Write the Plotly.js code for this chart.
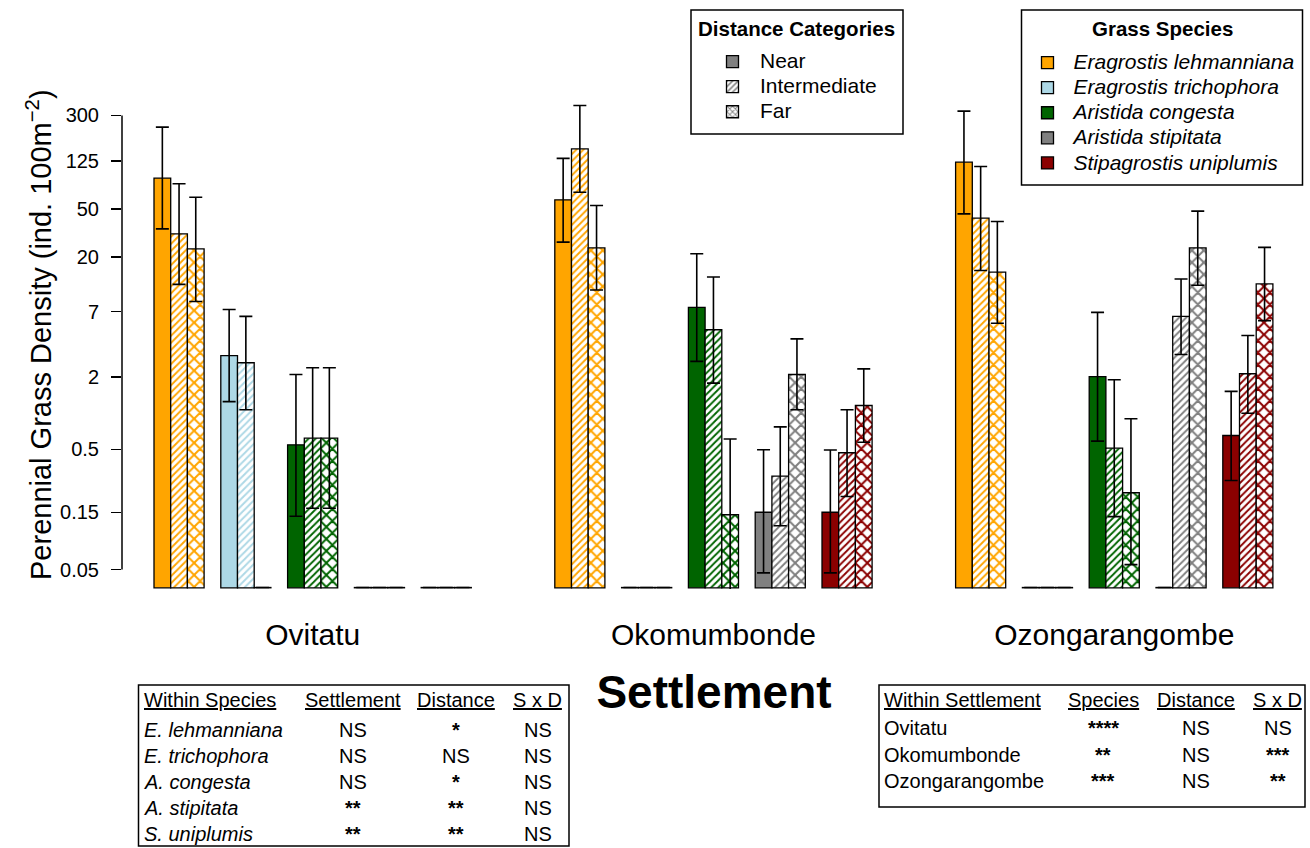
<!DOCTYPE html>
<html><head><meta charset="utf-8">
<script src="https://cdn.plot.ly/plotly-3.0.1.min.js"></script>
<style>html,body{margin:0;padding:0;background:#fff}#chart{width:1310px;height:848px}</style>
</head><body><div id="chart"></div>
<script>
// ---------- data ----------
const settlements = ['Ovitatu', 'Okomumbonde', 'Ozongarangombe'];
const species = ['Eragrostis lehmanniana', 'Eragrostis trichophora', 'Aristida congesta', 'Aristida stipitata', 'Stipagrostis uniplumis'];
const speciesColors = ['#FFA500', '#ADD8E6', '#006400', '#808080', '#8B0000'];
const distances = ['Near', 'Intermediate', 'Far'];

// rows: Near, Intermediate, Far ; columns: Ovitatu, Okomumbonde, Ozongarangombe
const lehmMean  = [[90.3, 59.6, 122.7], [31.1, 158, 42], [23.3, 23.8, 14.9]];
const lehmUpper = [[240, 132, 326], [81.1, 363, 113], [62.7, 53.5, 39.4]];
const lehmLower = [[34.2, 26.5, 45.6], [11.8, 69, 15.4], [8.5, 10.6, 5.6]];

const trichMean  = [[3.02, 0, 0], [2.63, 0, 0], [0, 0, 0]];
const trichUpper = [[7.3, 0, 0], [6.4, 0, 0], [0, 0, 0]];
const trichLower = [[1.25, 0, 0], [1.07, 0, 0], [0, 0, 0]];

const congMean  = [[0.546, 7.6, 2.02], [0.62, 4.95, 0.512], [0.62, 0.143, 0.218]];
const congUpper = [[2.1, 21.2, 6.9], [2.39, 13.6, 1.9], [2.39, 0.61, 0.90]];
const congLower = [[0.139, 2.7, 0.586], [0.162, 1.78, 0.138], [0.162, 0, 0.055]];

const stipMean  = [[0, 0.150, 0], [0, 0.30, 6.4], [0, 2.1, 23.8]];
const stipUpper = [[0, 0.497, 0], [0, 0.77, 13.1], [0, 4.16, 48]];
const stipLower = [[0, 0.047, 0], [0, 0.116, 3.08], [0, 1.07, 11.6]];

const uniMean  = [[0, 0.150, 0.653], [0, 0.469, 2.13], [0, 1.16, 11.9]];
const uniUpper = [[0, 0.494, 1.52], [0, 1.07, 4.44], [0, 2.34, 24]];
const uniLower = [[0, 0.047, 0.276], [0, 0.203, 1.0], [0, 0.574, 5.9]];

const yTickVals = [0.05, 0.15, 0.5, 2, 7, 20, 50, 125, 300];
const yTickText = ['0.05', '0.15', '0.5', '2', '7', '20', '50', '125', '300'];

// significance tables
const withinSpeciesRows = ['E. lehmanniana', 'E. trichophora', 'A. congesta', 'A. stipitata', 'S. uniplumis'];
const speciesSettlementSig = ['NS', 'NS', 'NS', '**', '**'];
const speciesDistanceSig = ['*', 'NS', '*', '**', '**'];
const speciesSxDSig = ['NS', 'NS', 'NS', 'NS', 'NS'];
const withinSettlementRows = ['Ovitatu', 'Okomumbonde', 'Ozongarangombe'];
const settlementSpeciesSig = ['****', '**', '***'];
const settlementDistanceSig = ['NS', 'NS', 'NS'];
const settlementSxDSig = ['NS', '***', '**'];

// ---------- layout geometry ----------
const FONT = 'Liberation Sans, Arial, Helvetica, sans-serif';
const W = 1310, H = 848;
const M = {l: 122, r: 4, t: 10, b: 259};
const PW = W - M.l - M.r, PH = H - M.t - M.b;
const BASE = 0.0353;               // bar baseline (plot floor)
const yMin = Math.log10(BASE) - 0.01;
const yMax = yMin + PH / 120.2;
const xMin = -1.916, xMax = xMin + PW / 16.7;
const px2x = px => (px - M.l) / PW;
const px2y = py => (M.t + PH - py) / PH;
const yPaper = v => (Math.log10(v) - yMin) / (yMax - yMin);

const means = [lehmMean, trichMean, congMean, stipMean, uniMean];
const uppers = [lehmUpper, trichUpper, congUpper, stipUpper, uniUpper];
const lowers = [lehmLower, trichLower, congLower, stipLower, uniLower];
const patterns = [
  {shape: ''},
  {shape: '/', size: 5, solidity: 0.38, bgcolor: 'white', fillmode: 'replace'},
  {shape: 'x', size: 8.5, solidity: 0.42, bgcolor: 'white', fillmode: 'replace'}
];

const traces = [];
species.forEach((sp, k) => {
  distances.forEach((dist, d) => {
    const m = means[k][d], up = uppers[k][d], lo = lowers[k][d];
    const pat = Object.assign({}, patterns[d]);
    if (d > 0) pat.fgcolor = speciesColors[k];
    traces.push({
      type: 'bar',
      name: sp + ' ' + dist,
      showlegend: false,
      x: settlements.map((s, i) => i * 24 + k * 4 + d + 0.5),
      base: settlements.map(() => BASE),
      y: m.map(v => v > 0 ? v - BASE : BASE * 0.006),
      width: 1,
      marker: {
        color: d === 0 ? speciesColors[k] : 'white',
        pattern: pat,
        line: {color: 'black', width: 1.3}
      },
      error_y: {
        type: 'data', symmetric: false,
        array: m.map((v, i) => v > 0 ? up[i] - v : null),
        arrayminus: m.map((v, i) => v > 0 ? v - lo[i] : null),
        color: 'black', thickness: 1.6, width: 6.5
      },
      hoverinfo: 'skip'
    });
  });
});

// legend entries
const big = t => '<span style="font-size:21px">' + t + '</span>';
distances.forEach((dist, d) => {
  const pat = Object.assign({}, patterns[d]);
  if (d > 0) { pat.fgcolor = '#808080'; pat.size = 5; }
  traces.push({
    type: 'bar', x: [null], y: [null], name: big(dist), legend: 'legend',
    marker: {color: d === 0 ? '#808080' : 'white', pattern: pat, line: {color: 'black', width: 1.3}}
  });
});
species.forEach((sp, k) => {
  traces.push({
    type: 'bar', x: [null], y: [null], name: big('<i>' + sp + '</i>'), legend: 'legend2',
    marker: {color: speciesColors[k], line: {color: 'black', width: 1.3}}
  });
});

// ---------- annotations (titles + tables) ----------
const ann = [];
ann.push({
  text: 'Perennial Grass Density (ind. 100m<sup>−2</sup>)', textangle: -90,
  xref: 'paper', yref: 'paper', x: px2x(39), y: px2y(335),
  xanchor: 'center', yanchor: 'middle', showarrow: false,
  font: {size: 29, family: FONT, color: 'black'}
});
// legend box titles
ann.push({text: '<b>Distance Categories</b>', xref: 'paper', yref: 'paper', x: px2x(796), y: px2y(29),
  xanchor: 'center', yanchor: 'middle', showarrow: false, font: {size: 20.5, family: FONT, color: 'black'}});
ann.push({text: '<b>Grass Species</b>', xref: 'paper', yref: 'paper', x: px2x(1162), y: px2y(29),
  xanchor: 'center', yanchor: 'middle', showarrow: false, font: {size: 20.5, family: FONT, color: 'black'}});

const U = t => '<span style="text-decoration:underline">' + t + '</span>';
const sig = t => t.indexOf('*') >= 0 ? '<b>' + t + '</b>' : t;
function cell(text, px, py, anchor) {
  ann.push({text: text, xref: 'paper', yref: 'paper', x: px2x(px), y: px2y(py),
    xanchor: anchor, yanchor: 'middle', showarrow: false,
    font: {size: 20, family: FONT, color: 'black'}});
}
// table 1
const t1Cols = [352.5, 456, 537.5];
cell(U('Within Species'), 142, 700, 'left');
cell(U('Settlement'), t1Cols[0], 700, 'center');
cell(U('Distance'), t1Cols[1], 700, 'center');
cell(U('S x D'), t1Cols[2], 700, 'center');
withinSpeciesRows.forEach((r, i) => {
  const py = 730 + i * 26;
  cell('<i>' + r + '</i>', 142, py, 'left');
  cell(sig(speciesSettlementSig[i]), t1Cols[0], py, 'center');
  cell(sig(speciesDistanceSig[i]), t1Cols[1], py, 'center');
  cell(sig(speciesSxDSig[i]), t1Cols[2], py, 'center');
});
// table 2
const t2Cols = [1103, 1195.5, 1277.7];
cell(U('Within Settlement'), 882, 700, 'left');
cell(U('Species'), t2Cols[0], 700, 'center');
cell(U('Distance'), t2Cols[1], 700, 'center');
cell(U('S x D'), t2Cols[2], 700, 'center');
withinSettlementRows.forEach((r, i) => {
  const py = 728 + i * 26.5;
  cell(r, 882, py, 'left');
  cell(sig(settlementSpeciesSig[i]), t2Cols[0], py, 'center');
  cell(sig(settlementDistanceSig[i]), t2Cols[1], py, 'center');
  cell(sig(settlementSxDSig[i]), t2Cols[2], py, 'center');
});

const box = (x0, y0, x1, y1) => ({type: 'rect', xref: 'paper', yref: 'paper',
  x0: px2x(x0), x1: px2x(x1), y0: px2y(y0), y1: px2y(y1),
  line: {color: 'black', width: 1.5}, fillcolor: 'white', layer: 'above'});
const shapes = [
  {type: 'line', xref: 'paper', yref: 'paper', x0: 0, x1: 0,
   y0: yPaper(yTickVals[0]), y1: yPaper(yTickVals[yTickVals.length - 1]),
   line: {color: 'black', width: 1.5}},
  box(138.5, 685, 569, 846),
  box(879, 685, 1305, 807),
  box(691, 10, 903, 134),
  box(1021.5, 10, 1302.5, 185)
];

const layout = {
  width: W, height: H, margin: M,
  paper_bgcolor: 'white', plot_bgcolor: 'white',
  font: {family: FONT, color: 'black', size: 20},
  barmode: 'overlay', showlegend: true,
  xaxis: {
    range: [xMin, xMax], showgrid: false, zeroline: false, showline: false, ticks: '',
    tickvals: settlements.map((s, i) => i * 24 + 9.5), ticktext: settlements,
    tickfont: {size: 30}, ticklabelstandoff: 25,
    title: {text: '<b>Settlement</b>', font: {size: 46}, standoff: 25}
  },
  yaxis: {
    type: 'log', range: [yMin, yMax], showgrid: false, zeroline: false, showline: false,
    tickvals: yTickVals, ticktext: yTickText, ticks: 'outside', ticklen: 10, tickwidth: 1.5,
    tickcolor: 'black', tickfont: {size: 20}, ticklabelstandoff: 8
  },
  legend: {
    x: px2x(705), y: px2y(44), xanchor: 'left', yanchor: 'top',
    bgcolor: 'rgba(0,0,0,0)', borderwidth: 0,
    font: {size: 17}, itemwidth: 45, tracegroupgap: 0
  },
  legend2: {
    x: px2x(1021.5), y: px2y(45), xanchor: 'left', yanchor: 'top',
    bgcolor: 'rgba(0,0,0,0)', borderwidth: 0,
    font: {size: 17}, itemwidth: 42, tracegroupgap: 0
  },
  annotations: ann, shapes: shapes
};

Plotly.newPlot('chart', traces, layout, {displayModeBar: false, staticPlot: true});
</script>
</body></html>
